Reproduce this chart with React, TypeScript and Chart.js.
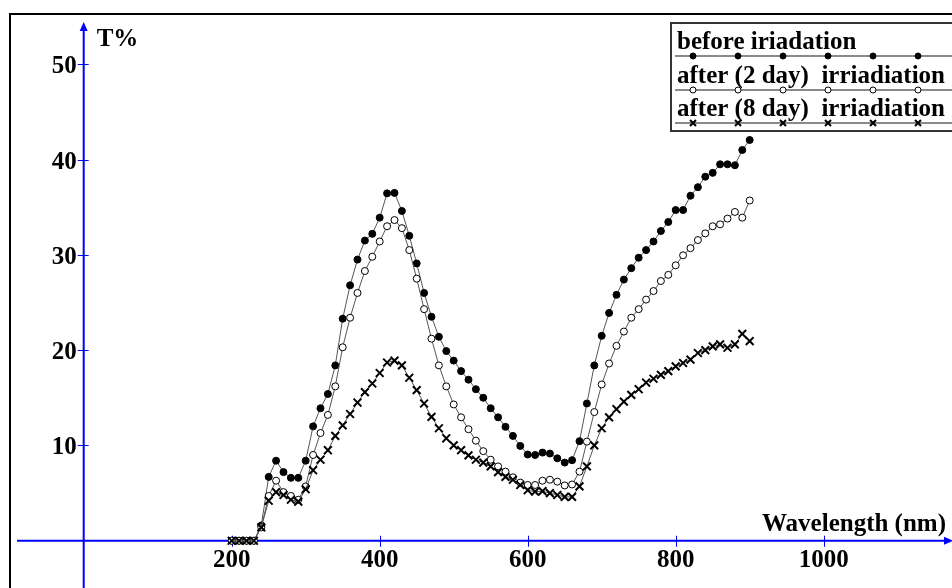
import React, { useEffect, useRef } from 'react';
import { Chart, registerables } from 'chart.js';

Chart.register(...registerables);

const wavelengths = [
  200, 210, 220, 230, 240, 250, 260, 270, 280, 290,
  300, 310, 320, 330, 340, 350, 360, 370, 380, 390,
  400, 410, 420, 430, 440, 450, 460, 470, 480, 490,
  500, 510, 520, 530, 540, 550, 560, 570, 580, 590,
  600, 610, 620, 630, 640, 650, 660, 670, 680, 690,
  700, 710, 720, 730, 740, 750, 760, 770, 780, 790,
  800, 810, 820, 830, 840, 850, 860, 870, 880, 890,
  900,
];

const beforeIrr = [
  0, 0, 0, 0, 1.6, 6.7, 8.4, 7.2, 6.6, 6.6,
  8.4, 12.0, 13.9, 15.4, 18.4, 23.3, 26.8, 29.5, 31.5, 32.2,
  33.9, 36.45, 36.5, 34.6, 32.0, 29.1, 26.0, 23.5, 21.4, 19.9,
  18.9, 17.8, 16.9, 15.9, 15.0, 13.9, 12.95, 11.95, 11.0, 9.95,
  9.05, 9.0, 9.25, 9.15, 8.65, 8.2, 8.45, 10.45, 14.4, 18.4,
  21.5, 23.9, 25.8, 27.4, 28.6, 29.7, 30.5, 31.4, 32.5, 33.45,
  34.7, 34.7, 36.2, 37.1, 38.2, 38.6, 39.5, 39.5, 39.4, 41.0,
  42.05,
];

const after2Day = [
  0, 0, 0, 0, 1.4, 4.7, 6.3, 5.1, 4.7, 4.3,
  5.7, 9.0, 11.3, 13.2, 16.2, 20.3, 23.4, 26.0, 28.3, 29.8,
  31.4, 33.0, 33.65, 32.8, 30.5, 27.5, 24.3, 21.2, 18.4, 16.2,
  14.3, 12.95, 11.7, 10.5, 9.4, 8.5, 7.8, 7.25, 6.65, 6.1,
  5.85, 5.85, 6.3, 6.4, 6.2, 5.8, 5.9, 7.25, 10.4, 13.5,
  16.4, 18.6, 20.45, 21.95, 23.4, 24.3, 25.3, 26.2, 27.25, 27.9,
  28.9, 29.95, 30.7, 31.55, 32.25, 33.0, 33.2, 33.8, 34.5, 33.9,
  35.7,
];

const after8Day = [
  0, 0, 0, 0, 1.4, 4.2, 5.1, 4.8, 4.3, 4.1,
  5.4, 7.4, 8.5, 9.5, 11.0, 12.1, 13.3, 14.5, 15.6, 16.5,
  17.6, 18.7, 18.9, 18.4, 17.1, 15.8, 14.4, 13.0, 11.8, 10.75,
  10.0, 9.5, 8.95, 8.5, 8.2, 7.8, 7.2, 6.7, 6.4, 5.85,
  5.3, 5.15, 5.2, 5.0, 4.8, 4.6, 4.6, 5.7, 7.8, 10.0,
  11.8, 12.95, 13.8, 14.6, 15.3, 15.9, 16.6, 17.0, 17.4, 17.8,
  18.3, 18.65, 19.0, 19.7, 20.0, 20.4, 20.6, 20.25, 20.6, 21.7,
  20.95,
];

const xTickValues = [200, 400, 600, 800, 1000];
const yTickValues = [10, 20, 30, 40, 50];
const seriesLabels = [
  'before iriadation',
  'after (2 day)  irriadiation',
  'after (8 day)  irriadiation',
];
const xAxisTitle = 'Wavelength (nm)';
const yAxisTitle = 'T%';

const FONT = 'bold 25px "Liberation Serif", "Times New Roman", serif';
const AXIS_BLUE = '#0000ff';
const LINE_GREY = '#555555';

function drawMarker(ctx: CanvasRenderingContext2D, kind: number, x: number, y: number, r: number) {
  ctx.save();
  ctx.lineWidth = kind === 2 ? 2 : 1;
  ctx.strokeStyle = '#000';
  if (kind === 0 || kind === 1) {
    ctx.beginPath();
    ctx.arc(x, y, r, 0, Math.PI * 2);
    ctx.fillStyle = kind === 0 ? '#000' : '#fff';
    ctx.fill();
    ctx.stroke();
  } else {
    ctx.beginPath();
    ctx.moveTo(x - r, y - r);
    ctx.lineTo(x + r, y + r);
    ctx.moveTo(x + r, y - r);
    ctx.lineTo(x - r, y + r);
    ctx.stroke();
  }
  ctx.restore();
}

const decorPlugin = {
  id: 'decor',
  beforeDatasetsDraw(chart: any) {
    const ctx: CanvasRenderingContext2D = chart.ctx;
    const xs = chart.scales.x;
    const ys = chart.scales.y;
    const x0 = xs.getPixelForValue(0);
    const y0 = ys.getPixelForValue(0);
    const W = chart.width;
    const H = chart.height;
    ctx.save();
    // axes
    ctx.strokeStyle = AXIS_BLUE;
    ctx.fillStyle = AXIS_BLUE;
    ctx.lineWidth = 2;
    ctx.beginPath();
    ctx.moveTo(x0, H);
    ctx.lineTo(x0, 28);
    ctx.moveTo(17, y0);
    ctx.lineTo(W - 6, y0);
    ctx.stroke();
    // arrows
    ctx.beginPath();
    ctx.moveTo(x0, 22);
    ctx.lineTo(x0 - 4, 31);
    ctx.lineTo(x0 + 4, 31);
    ctx.closePath();
    ctx.fill();
    ctx.beginPath();
    ctx.moveTo(W + 1, y0);
    ctx.lineTo(W - 8, y0 - 4);
    ctx.lineTo(W - 8, y0 + 4);
    ctx.closePath();
    ctx.fill();
    // ticks
    ctx.lineWidth = 1;
    ctx.beginPath();
    xTickValues.forEach((v) => {
      const px = Math.round(xs.getPixelForValue(v)) + 0.5;
      ctx.moveTo(px, y0 - 5);
      ctx.lineTo(px, y0 + 6);
    });
    yTickValues.forEach((v) => {
      const py = Math.round(ys.getPixelForValue(v)) + 0.5;
      ctx.moveTo(x0 - 6, py);
      ctx.lineTo(x0 + 5, py);
    });
    ctx.stroke();
    // labels
    ctx.fillStyle = '#000';
    ctx.font = FONT;
    ctx.textBaseline = 'alphabetic';
    ctx.textAlign = 'center';
    xTickValues.forEach((v) => {
      ctx.fillText(String(v), xs.getPixelForValue(v), y0 + 26);
    });
    ctx.textAlign = 'right';
    yTickValues.forEach((v) => {
      ctx.fillText(String(v), x0 - 7, ys.getPixelForValue(v) + 9);
    });
    ctx.textAlign = 'left';
    ctx.fillText(yAxisTitle, x0 + 13, 46);
    ctx.textAlign = 'right';
    ctx.fillText(xAxisTitle, W - 6, y0 - 10);
    ctx.restore();
  },
  afterDatasetsDraw(chart: any) {
    const ctx: CanvasRenderingContext2D = chart.ctx;
    const W = chart.width;
    const H = chart.height;
    ctx.save();
    // legend box
    const bx = 671;
    const by = 23;
    ctx.fillStyle = '#fff';
    ctx.fillRect(bx, by, W - bx + 10, 108);
    ctx.strokeStyle = '#333';
    ctx.lineWidth = 2;
    ctx.strokeRect(bx, by, W - bx + 10, 108);
    const lineYs = [56, 90, 123];
    const textYs = [49, 83, 116];
    seriesLabels.forEach((label, i) => {
      ctx.strokeStyle = '#8a8a8a';
      ctx.lineWidth = 2;
      ctx.beginPath();
      ctx.moveTo(675, lineYs[i]);
      ctx.lineTo(W, lineYs[i]);
      ctx.stroke();
      for (let k = 0; k < 6; k++) {
        drawMarker(ctx, i, 693 + 45 * k, lineYs[i], 3);
      }
      ctx.fillStyle = '#000';
      ctx.font = FONT;
      ctx.textAlign = 'left';
      ctx.textBaseline = 'alphabetic';
      ctx.fillText(label, 677, textYs[i]);
    });
    // outer frame
    ctx.strokeStyle = '#000';
    ctx.lineWidth = 2;
    ctx.strokeRect(10, 14, W + 20, H + 20);
    ctx.restore();
  },
};

export default function App() {
  const canvasRef = useRef<HTMLCanvasElement>(null);
  useEffect(() => {
    const canvas = canvasRef.current;
    if (!canvas) return;
    const mk = (vals: number[]) => wavelengths.map((w, i) => ({ x: w, y: vals[i] }));
    const chart = new Chart(canvas, {
      type: 'line',
      data: {
        datasets: [
          {
            label: seriesLabels[2],
            data: mk(after8Day),
            borderColor: LINE_GREY,
            borderWidth: 1,
            pointStyle: 'crossRot',
            pointRadius: 5.5,
            pointBorderWidth: 2,
            pointBorderColor: '#000',
            pointBackgroundColor: '#000',
            fill: false,
            tension: 0,
          },
          {
            label: seriesLabels[1],
            data: mk(after2Day),
            borderColor: LINE_GREY,
            borderWidth: 1,
            pointStyle: 'circle',
            pointRadius: 3.5,
            pointBorderWidth: 1,
            pointBorderColor: '#000',
            pointBackgroundColor: '#fff',
            fill: false,
            tension: 0,
          },
          {
            label: seriesLabels[0],
            data: mk(beforeIrr),
            borderColor: LINE_GREY,
            borderWidth: 1,
            pointStyle: 'circle',
            pointRadius: 3.5,
            pointBorderWidth: 1,
            pointBorderColor: '#000',
            pointBackgroundColor: '#000',
            fill: false,
            tension: 0,
          },
        ],
      },
      options: {
        animation: false,
        responsive: false,
        events: [],
        layout: { padding: 0, autoPadding: false },
        plugins: {
          legend: { display: false },
          tooltip: { enabled: false },
          title: { display: false },
        },
        scales: {
          x: { type: 'linear', min: -113.1, max: 1173.4, display: false },
          y: { type: 'linear', min: -4.96, max: 56.74, display: false },
        },
      },
      plugins: [decorPlugin],
    });
    return () => chart.destroy();
  }, []);
  return (
    <div style={{ position: 'absolute', left: 0, top: 0, width: 952, height: 588, background: '#fff' }}>
      <canvas ref={canvasRef} width={952} height={588} style={{ display: 'block' }} />
    </div>
  );
}
